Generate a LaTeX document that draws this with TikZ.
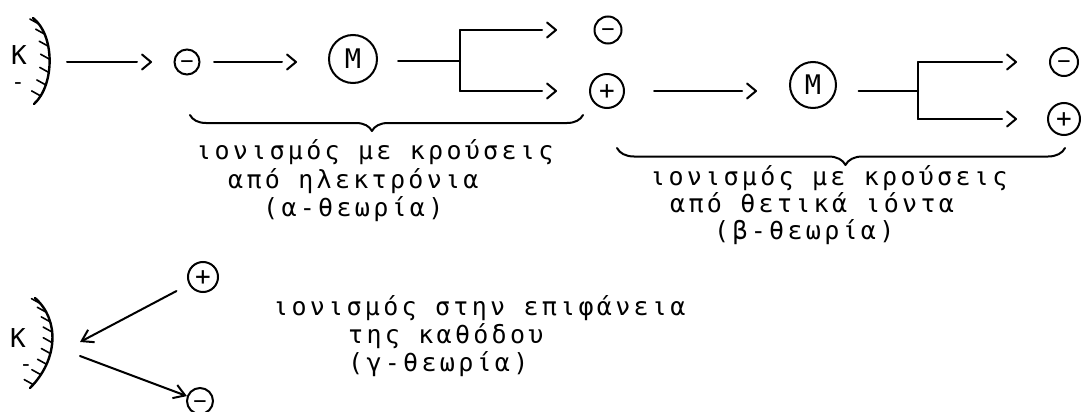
\documentclass[tikz,border=0pt]{standalone}
\usepackage{fontspec}
\setmainfont{DejaVu Sans Mono}
\newfontfamily\plotfont[LetterSpace=13.2]{DejaVu Sans Mono}
\usetikzlibrary{arrows.meta,decorations.pathreplacing}

% open plotter-style chevron that stands a little apart from the line
\pgfdeclarearrow{
  name = Chevron,
  cache = false,
  setup code = {
    \pgfarrowssettipend{0pt}
    \pgfarrowssetlineend{-14pt}
    \pgfarrowssetbackend{-14pt}
    \pgfarrowssetvisualbackend{-9pt}
    \pgfarrowsupperhullpoint{-9pt}{7.5pt}
    \pgfarrowsupperhullpoint{0pt}{0pt}
  },
  drawing code = {
    \pgfsetdash{}{0pt}
    \pgfsetroundcap
    \pgfsetroundjoin
    \pgfpathmoveto{\pgfqpoint{-9pt}{7.5pt}}
    \pgfpathlineto{\pgfqpoint{0pt}{0pt}}
    \pgfpathlineto{\pgfqpoint{-9pt}{-7.5pt}}
    \pgfusepathqstroke
  },
}

\tikzset{
  wire/.style={line width=2pt, line cap=round, line join=round},
  flow/.style={wire, -{Chevron}},
  barb/.style={wire, -{Straight Barb[length=11pt,width=14pt]}},
  ring/.style={circle, draw, line width=2pt, inner sep=0pt, minimum size=#1},
  minusring/.style={ring=#1, font=\fontsize{22}{22}\selectfont, text height=14pt, text depth=0pt},
  plusring/.style={ring=#1, font=\fontsize{26}{26}\selectfont, text height=16.6pt, text depth=0pt},
  mol/.style={ring=#1, font=\fontsize{27}{27}\selectfont},
  note/.style={anchor=mid west, inner sep=0pt, font=\plotfont\fontsize{25}{28}\selectfont},
  electrode/.style={line width=2.4pt, line cap=round},
  hatchline/.style={line width=1.6pt, line cap=round},
  lbl/.style={anchor=base, inner sep=0pt, font=\fontsize{26}{26}\selectfont},
  sgn/.style={anchor=base, inner sep=0pt, font=\fontsize{22}{22}\selectfont},
}

\begin{document}
\begin{tikzpicture}[x=1pt, y=-1pt]
\useasboundingbox (0,0) rectangle (1081,412);
\fill[white] (0,0) rectangle (1081,412);

% ---------- cathode, upper row ----------
\draw[electrode] (33,18) .. controls (55,35) and (55,85) .. (34,104);
\path (33,18) .. controls (55,35) and (55,85) .. (34,104)
  \foreach \t [count=\i] in {0.1,0.23,0.36,0.49,0.62,0.75,0.88} { coordinate[pos=\t] (ha\i) };
\foreach \i in {1,...,7} \draw[hatchline] (ha\i) -- ++(-9,-5);
\node[lbl] (k1) at (19,65) {K};
\node[sgn] (k1m) at (18,89.5) {-};
\coordinate (cat1) at (67,62);

% ---------- particles, upper row ----------
\node[minusring=25pt] (n1) at (187,62)  {−};
\node[mol=48pt]       (m1) at (353,59)  {M};
\node[minusring=27pt] (n2) at (608,30)  {−};
\node[plusring=34pt]  (p1) at (607,91)  {+};
\node[mol=46pt]       (m2) at (813,85)  {M};
\node[minusring=28pt] (n3) at (1064,62) {−};
\node[plusring=32pt]  (p2) at (1064,119) {+};
\coordinate (j1) at (460,61);
\coordinate (j2) at (918,91);

% ---------- connectors, upper row ----------
\draw[flow, shorten >=22.5pt] (cat1) -- (n1);
\draw[flow, shorten <=13.5pt, shorten >=32pt] (n1) -- (n1 -| m1.west);
\draw[wire, shorten <=20pt] (m1.east |- j1) -- (j1);
\draw[wire] (j1 |- n2) -- (j1 |- p1);
\draw[flow, shorten >=37.5pt] (j1 |- n2) -- (n2);
\draw[flow, shorten >=33pt] (j1 |- p1) -- (p1);
\draw[flow, shorten <=29pt, shorten >=33pt] (p1) -- (p1 -| m2.west);
\draw[wire, shorten <=21.5pt] (m2.east |- j2) -- (j2);
\draw[wire] (j2 |- n3) -- (j2 |- p2);
\draw[flow, shorten >=33pt] (j2 |- n3) -- (n3);
\draw[flow, shorten >=31pt] (j2 |- p2) -- (p2);

% ---------- braces ----------
\draw[wire, decorate, decoration={brace, mirror, amplitude=16pt, aspect=0.463}]
  (190,115) -- (583,115);
\draw[wire, decorate, decoration={brace, mirror, amplitude=17pt, aspect=0.51}]
  (617,148) -- (1065,148);

% ---------- captions ----------
\node[note] (a1) at (196,157) {ιονισμός με κρούσεις};
\node[note] (a2) at (228,186) {από ηλεκτρόνια};
\node[note] (a3) at (263,214) {(α-θεωρία)};
\node[note] (b1) at (650,183) {ιονισμός με κρούσεις};
\node[note] (b2) at (670,210) {από θετικά ιόντα};
\node[note] (b3) at (714,237) {(β-θεωρία)};
\node[note] (c1) at (273,313) {ιονισμός στην επιφάνεια};
\node[note] (c2) at (348,341) {της καθόδου};
\node[note] (c3) at (348,369) {(γ-θεωρία)};

% ---------- cathode, lower part ----------
\draw[electrode] (35,298) .. controls (60,320) and (58,360) .. (30,388);
\path (35,298) .. controls (60,320) and (58,360) .. (30,388)
  \foreach \t [count=\i] in {0.08,0.19,0.30,0.41,0.52,0.63,0.74,0.85,0.96} { coordinate[pos=\t] (hb\i) };
\foreach \i in {1,...,9} \draw[hatchline] (hb\i) -- ++(-9,-5);
\node[lbl] (k2) at (18,347) {K};
\node[sgn] (k2m) at (26,371.5) {-};
\coordinate (cat2a) at (80,342);
\coordinate (cat2b) at (80,356);

\node[plusring=30pt]  (p3) at (203,277) {+};
\node[minusring=26pt] (n4) at (200,401) {−};
\draw[barb, shorten <=14pt] (p3) -- (cat2a);
\draw[barb] (cat2b) -- (n4);
\end{tikzpicture}
\end{document}
